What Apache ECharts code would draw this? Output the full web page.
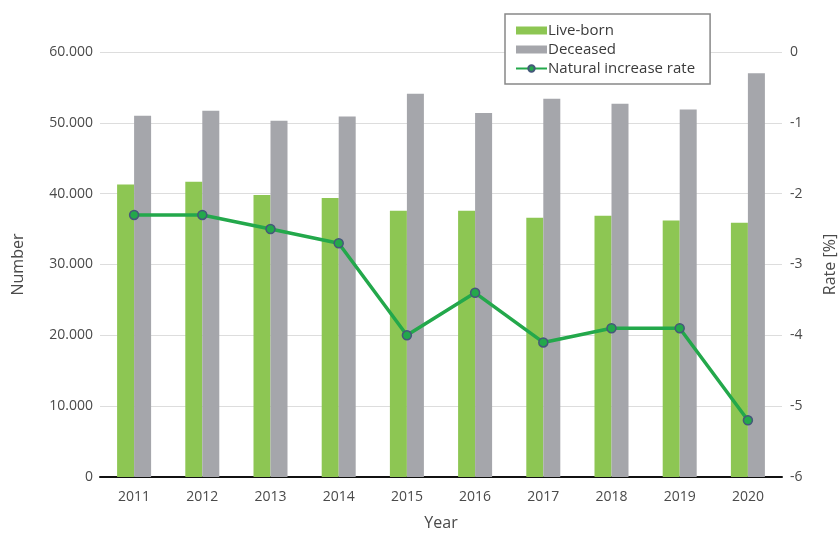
<!DOCTYPE html>
<html>
<head>
<meta charset="utf-8">
<script src="https://cdn.jsdelivr.net/npm/echarts@6/dist/echarts.min.js"></script>
<style>
  html, body { margin: 0; padding: 0; background: #fff; }
  #chart { width: 840px; height: 533px; }
</style>
</head>
<body>
<div id="chart"></div>
<script>
// years on the x axis
var years = ['2011', '2012', '2013', '2014', '2015', '2016', '2017', '2018', '2019', '2020'];
// live-born and deceased counts
var liveBorn = [41300, 41700, 39800, 39400, 37600, 37600, 36600, 36900, 36200, 35900];
var deceased = [51000, 51700, 50300, 50900, 54100, 51400, 53400, 52700, 51900, 57000];
// natural increase rate (%)
var rate = [-2.3, -2.3, -2.5, -2.7, -4.0, -3.4, -4.1, -3.9, -3.9, -5.2];

var font = 'Open Sans';
var textColor = '#4a4a4a';

var chart = echarts.init(document.getElementById('chart'));
chart.setOption({
  animation: false,
  textStyle: { fontFamily: font },
  grid: { left: 100, right: 58, top: 52, bottom: 56, outerBoundsMode: 'none' },
  legend: {
    orient: 'vertical',
    left: 505,
    top: 14,
    padding: [9, 15, 8, 10],
    itemGap: 4,
    itemWidth: 31,
    itemHeight: 8,
    backgroundColor: '#fff',
    borderColor: '#888',
    borderWidth: 1.5,
    textStyle: { color: '#3a3a3a', fontSize: 15, fontFamily: font, padding: [0, 0, 0, -4] },
    data: [
      { name: 'Live-born', icon: 'rect' },
      { name: 'Deceased', icon: 'rect' },
      { name: 'Natural increase rate' }
    ]
  },
  xAxis: {
    type: 'category',
    data: years,
    name: 'Year',
    nameLocation: 'middle',
    nameGap: 38,
    nameTextStyle: { color: textColor, fontSize: 16 },
    axisLine: { lineStyle: { color: '#111', width: 2 } },
    axisTick: { show: false },
    axisLabel: { color: textColor, fontSize: 14, margin: 13 }
  },
  yAxis: [
    {
      type: 'value',
      min: 0,
      max: 60000,
      interval: 10000,
      name: 'Number',
      nameLocation: 'middle',
      nameGap: 74,
      nameTextStyle: { color: textColor, fontSize: 16 },
      axisLine: { show: false },
      axisTick: { show: false },
      axisLabel: {
        color: textColor,
        fontSize: 14,
        margin: 7,
        formatter: function (v) {
          return v === 0 ? '0' : (v / 1000) + '.000';
        }
      },
      splitLine: { lineStyle: { color: '#ddd', width: 1 } }
    },
    {
      type: 'value',
      min: -6,
      max: 0,
      interval: 1,
      name: 'Rate [%]',
      nameLocation: 'middle',
      nameGap: 40,
      nameTextStyle: { color: textColor, fontSize: 16 },
      axisLine: { show: false },
      axisTick: { show: false },
      axisLabel: { color: textColor, fontSize: 14, margin: 8 },
      splitLine: { show: false }
    }
  ],
  series: [
    {
      name: 'Live-born',
      type: 'bar',
      data: liveBorn,
      barWidth: 17,
      barGap: '0%',
      itemStyle: { color: '#8dc653' }
    },
    {
      name: 'Deceased',
      type: 'bar',
      data: deceased,
      barWidth: 17,
      itemStyle: { color: '#a5a6ab' }
    },
    {
      name: 'Natural increase rate',
      type: 'line',
      yAxisIndex: 1,
      data: rate,
      symbol: 'circle',
      symbolSize: 9,
      lineStyle: { color: '#23a84b', width: 3.5 },
      itemStyle: { color: '#23a84b', borderColor: '#45587a', borderWidth: 1.5 },
      z: 5
    }
  ]
});
</script>
</body>
</html>
